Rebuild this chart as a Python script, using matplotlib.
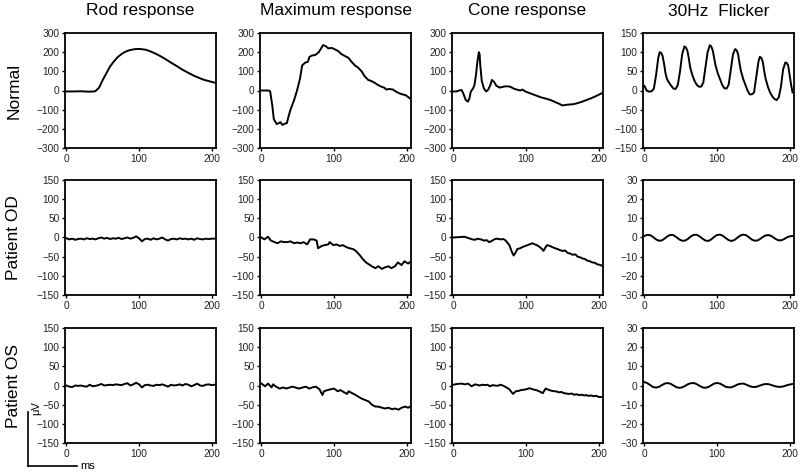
import matplotlib
matplotlib.use("Agg")
import matplotlib.pyplot as plt
from matplotlib.lines import Line2D

plt.rcParams["font.family"] = ["Liberation Sans", "DejaVu Sans"]

W, H = 800, 474

col_titles = ["Rod response", "Maximum response", "Cone response", "30Hz  Flicker"]
row_labels = ["Normal", "Patient OD", "Patient OS"]
x_ticks = [0, 100, 200]

# ---- Normal ----
rod_n_t = [0, 10, 20, 30, 38, 40, 45, 50, 55, 60, 65, 70, 75, 80, 85, 90, 95, 100, 105, 110,
           115, 120, 125, 130, 135, 140, 145, 150, 155, 160, 165, 170, 175, 180, 185, 190,
           195, 200, 205]
rod_n_v = [-5, -5, -4, -6, -5, -3, 15, 55, 90, 125, 150, 172, 188, 200, 208, 213, 216, 217,
           215, 212, 205, 197, 188, 178, 167, 155, 143, 132, 120, 108, 98, 88, 78, 70, 62, 55,
           50, 45, 40]

max_n_t = [0, 5, 10, 12, 15, 17, 21, 24, 26, 29, 31, 35, 37, 40, 45, 49, 53, 56, 60, 64, 66,
           70, 74, 79, 83, 85, 89, 92, 97, 101, 106, 110, 115, 120, 124, 129, 133, 138, 142,
           147, 151, 156, 160, 165, 169, 172, 176, 181, 185, 190, 194, 199, 204]
max_n_v = [0, 0, 0, -5, -80, -150, -175, -170, -165, -180, -175, -170, -140, -100, -50, 0,
           60, 130, 145, 150, 175, 183, 185, 200, 225, 237, 230, 220, 222, 215, 205, 190, 180,
           170, 150, 130, 120, 100, 75, 55, 50, 40, 30, 20, 15, 5, 8, 5, -5, -15, -20, -25, -40]

cone_n_t = [0, 4, 8, 11, 13, 15, 17, 20, 22, 24, 27, 29, 31, 33, 35, 36, 37, 39, 42, 45, 48,
            51, 53, 56, 59, 64, 69, 73, 78, 83, 87, 92, 95, 99, 106, 113, 120, 127, 134, 141,
            146, 150, 155, 160, 164, 169, 176, 183, 190, 197, 204]
cone_n_v = [-5, -5, 0, 3, -10, -30, -50, -58, -40, -5, 10, 30, 80, 150, 200, 190, 130, 50, 10,
            -5, 5, 30, 55, 45, 25, 15, 20, 22, 20, 10, 5, 0, 5, -5, -15, -25, -35, -42, -50,
            -62, -70, -78, -75, -73, -72, -68, -60, -50, -40, -28, -15]

flk_n_t = [0, 3, 6, 10, 13, 16, 19, 21, 23, 25, 27, 29, 31, 34, 37, 40, 43, 46, 49, 52, 55,
           57, 59, 61, 63, 66, 69, 72, 75, 78, 81, 84, 87, 90, 92, 94, 96, 98, 101, 104, 107,
           110, 113, 116, 119, 122, 125, 127, 129, 131, 133, 136, 139, 142, 145, 148, 151,
           154, 157, 159, 161, 163, 165, 167, 170, 173, 176, 179, 182, 185, 188, 191, 194,
           196, 198, 200, 202, 204]
flk_n_v = [12, 0, -3, -2, 5, 40, 85, 100, 98, 90, 70, 45, 30, 20, 12, 5, 4, 15, 50, 95, 115,
           112, 105, 85, 60, 40, 25, 15, 10, 10, 20, 60, 100, 118, 115, 105, 85, 65, 45, 30,
           15, 6, 5, 15, 55, 95, 108, 105, 95, 70, 50, 30, 15, 0, -10, -10, -5, 35, 75, 88, 85,
           75, 50, 30, 10, -5, -15, -22, -25, -18, 10, 55, 73, 72, 65, 40, 15, -5]

# ---- Patient OD ----
t4 = list(range(0, 205, 4))
rod_od_v = [-2, -5, -3, -6, -4, -3, -5, -2, -4, -3, -5, -2, 0, -3, -1, -4, -2, -3, -1, -4, -2,
            0, -3, -1, 3, -2, -10, -4, -3, -6, -2, -5, -3, 0, -5, -8, -4, -3, -5, -2, -4, -3,
            -5, -3, -6, -2, -4, -5, -3, -4, -3, -3]

max_od_t = [0, 4, 9, 13, 18, 22, 27, 31, 36, 40, 45, 49, 54, 58, 63, 67, 72, 76, 78, 83, 87,
            92, 94, 99, 103, 108, 112, 117, 121, 126, 130, 135, 139, 144, 148, 152, 157, 161,
            166, 170, 175, 179, 184, 188, 193, 197, 202, 204]
max_od_v = [0, -5, 2, -8, -12, -15, -10, -12, -12, -10, -15, -13, -15, -12, -18, -5, -5, -8,
            -28, -22, -20, -18, -12, -20, -18, -22, -20, -25, -28, -30, -35, -45, -55, -65,
            -70, -75, -80, -75, -82, -78, -75, -80, -75, -65, -72, -62, -68, -65]

cone_od_t = [0, 8, 15, 20, 26, 30, 33, 38, 42, 46, 49, 53, 56, 60, 65, 69, 72, 77, 81, 83, 86,
             88, 92, 95, 99, 102, 106, 109, 112, 115, 119, 122, 124, 127, 129, 133, 136, 140,
             143, 147, 150, 154, 157, 161, 164, 168, 171, 175, 178, 181, 184, 188, 191, 195,
             198, 201, 204]
cone_od_v = [0, 1, 2, -1, -5, -6, -3, -5, -8, -7, -12, -9, -5, -3, -5, -4, -8, -20, -40, -47,
             -38, -30, -28, -25, -22, -20, -17, -15, -18, -20, -25, -30, -35, -25, -20, -22,
             -25, -28, -30, -33, -35, -34, -40, -42, -45, -44, -50, -52, -55, -56, -60, -62,
             -65, -66, -70, -71, -73]

flk_od_v = [0.8, 1.4, 1.2, 0.2, -1.0, -1.7, -1.5, -0.5, 0.7, 1.4, 1.2, 0.2, -1.0, -1.7, -1.6,
            -0.7, 0.6, 1.4, 1.4, 0.6, -0.6, -1.6, -1.8, -1.0, 0.3, 1.3, 1.5, 0.9, -0.3, -1.4,
            -1.8, -1.3, -0.1, 1.0, 1.5, 1.2, 0.1, -1.1, -1.7, -1.5, -0.6, 0.5, 1.2, 1.2, 0.5,
            -0.6, -1.4, -1.5, -0.9, 0.0, 0.6, 0.8]

# ---- Patient OS ----
rod_os_v = [0, -3, -4, 0, -1, 0, -2, -3, 2, -2, -1, 1, 4, 0, 1, 2, 1, 3, 2, 1, 4, 6, 0, 3, 7,
            3, -5, 1, 2, 0, -1, 2, 1, 3, 0, -3, 2, 0, 1, 3, 0, 4, 2, -2, 1, 5, 0, -1, 2, 3, 1, 2]

max_os_t = [0, 5, 9, 14, 16, 20, 25, 30, 34, 39, 43, 48, 52, 57, 61, 66, 70, 75, 80, 84, 86,
            91, 95, 100, 105, 109, 114, 118, 120, 125, 130, 134, 139, 143, 148, 152, 157, 161,
            166, 170, 175, 180, 184, 189, 193, 198, 202, 205]
max_os_v = [5, -2, 5, -5, 3, -3, -8, -5, -8, -5, -3, -6, -8, -5, -3, -8, -5, -3, -10, -25, -15,
            -12, -10, -8, -15, -12, -18, -22, -15, -20, -25, -30, -35, -38, -42, -50, -55, -55,
            -58, -60, -58, -62, -60, -63, -58, -55, -58, -55]

cone_os_t = [0, 5, 11, 16, 20, 25, 30, 36, 40, 43, 47, 50, 54, 57, 61, 64, 68, 73, 77, 82, 86,
             90, 93, 97, 100, 105, 109, 114, 118, 121, 123, 127, 132, 136, 139, 143, 145, 149,
             152, 156, 159, 163, 166, 170, 173, 177, 180, 183, 186, 190, 193, 197, 200, 204]
cone_os_v = [2, 4, 5, 3, 5, -2, 3, 0, 2, 1, 2, -2, 1, 0, -1, 2, 0, -5, -10, -22, -15, -14,
             -12, -11, -10, -7, -10, -12, -15, -18, -20, -8, -12, -14, -15, -16, -18, -17, -20,
             -21, -22, -21, -24, -23, -25, -24, -26, -25, -27, -26, -28, -27, -30, -30]

flk_os_v = [1.8, 1.2, 0.2, -0.8, -1.1, -0.7, 0.2, 1.0, 1.3, 0.9, 0.0, -0.9, -1.2, -1.0, -0.2,
            0.7, 1.2, 1.3, 0.7, -0.2, -1.0, -1.2, -0.8, 0.1, 1.0, 1.3, 1.0, 0.2, -0.7, -1.0,
            -0.9, -0.3, 0.5, 0.9, 1.0, 0.5, -0.2, -0.7, -0.8, -0.5, 0.1, 0.6, 0.8, 0.6, 0.1,
            -0.4, -0.7, -0.7, -0.4, 0.1, 0.5, 0.8]

panels = [
    [(rod_n_t, rod_n_v), (max_n_t, max_n_v), (cone_n_t, cone_n_v), (flk_n_t, flk_n_v)],
    [(t4, rod_od_v), (max_od_t, max_od_v), (cone_od_t, cone_od_v), (t4, flk_od_v)],
    [(t4, rod_os_v), (max_os_t, max_os_v), (cone_os_t, cone_os_v), (t4, flk_os_v)],
]
y_limits = [
    [300, 300, 300, 150],
    [150, 150, 150, 30],
    [150, 150, 150, 30],
]

col_left = [65, 260, 452, 643]
col_width = 151
row_top = [33, 180, 328]
row_height = 115

fig = plt.figure(figsize=(W / 100, H / 100), dpi=100)
fig.patch.set_facecolor("white")

for r in range(3):
    for c in range(4):
        x0 = col_left[c] / W
        y0 = 1 - (row_top[r] + row_height) / H
        ax = fig.add_axes([x0, y0, col_width / W, row_height / H])
        t, v = panels[r][c]
        ax.plot(t, v, color="black", lw=1.4)
        lim = y_limits[r][c]
        ax.set_ylim(-lim, lim)
        ax.set_yticks(list(range(-lim, lim + 1, lim // 3)))
        ax.set_xlim(-2, 206)
        ax.set_xticks(x_ticks)
        for s in ax.spines.values():
            s.set_linewidth(1.3)
        ax.tick_params(direction="out", length=2.5, width=1, labelsize=7.3,
                       pad=1.5, colors="black", labelcolor="#222222")
        if r == 0:
            xc = (col_left[c] + col_width / 2) / W
            fig.text(xc, 1 - 11 / H, col_titles[c], fontsize=12.5,
                     ha="center", va="center")
        if c == 0:
            yc = 1 - (row_top[r] + row_height / 2) / H
            fig.text(14 / W, yc, row_labels[r], rotation=90, fontsize=12.5,
                     ha="center", va="center")

# scale bar, bottom left
fig.add_artist(Line2D([28 / W, 28 / W], [1 - 412 / H, 1 - 466 / H],
                      color="black", lw=1.2))
fig.add_artist(Line2D([28 / W, 77 / W], [1 - 466 / H, 1 - 466 / H],
                      color="black", lw=1.2))
fig.text(36 / W, 1 - 408 / H, "μV", rotation=90, fontsize=8, ha="center", va="center")
fig.text(80 / W, 1 - 466 / H, "ms", fontsize=8, ha="left", va="center")

fig.savefig("out.png", dpi=100)
